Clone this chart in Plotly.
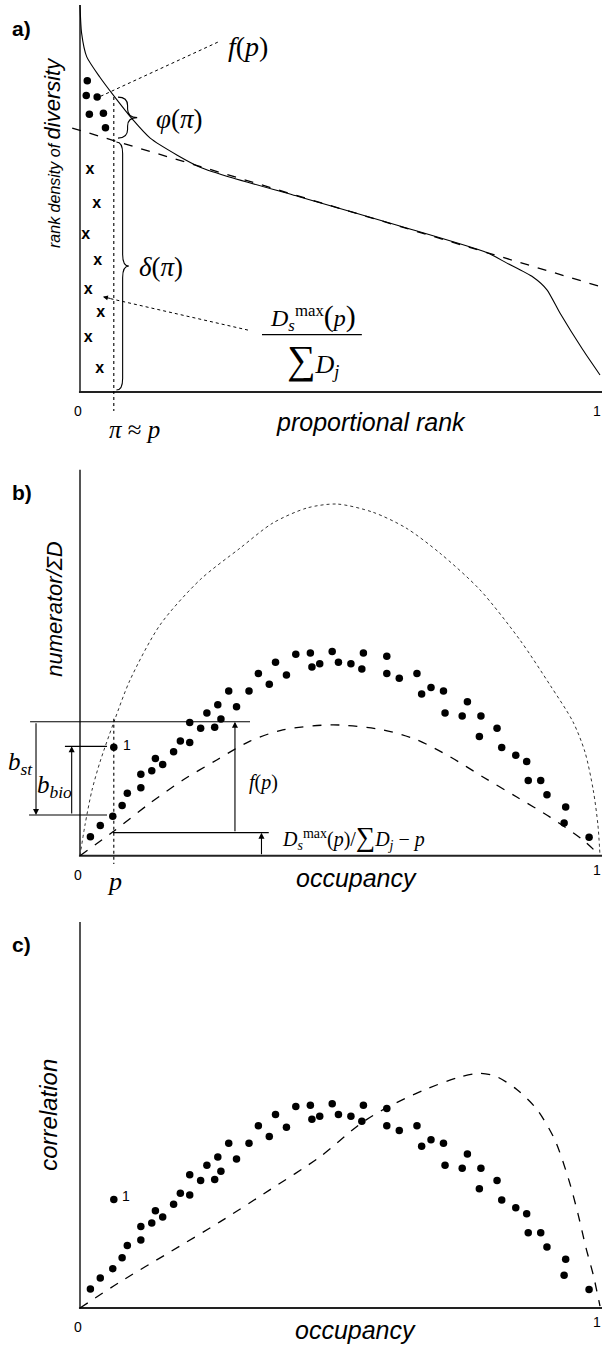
import plotly.graph_objects as go

# ---------------- data (axis units: x = proportional rank / occupancy, y = relative height) -------------
# panel a: rank density of diversity
rank_x = [0.0, 0.003, 0.013, 0.038, 0.067, 0.102, 0.135, 0.187, 0.231, 0.294, 0.423, 0.615, 0.783,
          0.821, 0.871, 0.898, 0.923, 0.967, 1.0]
rank_density = [1.0, 0.928, 0.866, 0.814, 0.762, 0.703, 0.656, 0.612, 0.581, 0.553, 0.504, 0.429, 0.360,
                0.333, 0.297, 0.264, 0.204, 0.109, 0.044]
trend_x = [-0.015, 1.004]
trend_y = [0.682, 0.271]
dot_rank = [0.014, 0.012, 0.033, 0.018, 0.045, 0.049]
dot_density = [0.804, 0.766, 0.762, 0.718, 0.720, 0.683]
cross_rank = [0.019, 0.032, 0.011, 0.034, 0.016, 0.040, 0.016, 0.038]
cross_density = [0.574, 0.486, 0.405, 0.339, 0.264, 0.203, 0.140, 0.059]

# panels b and c: species points (same points in both panels)
occupancy = [0.020, 0.039, 0.063, 0.081, 0.091, 0.117, 0.117, 0.138, 0.145, 0.159, 0.180, 0.193, 0.211,
             0.211, 0.232, 0.244, 0.259, 0.265, 0.271, 0.286, 0.301, 0.325, 0.343, 0.364, 0.376, 0.397,
             0.415, 0.443, 0.446, 0.461, 0.485, 0.497, 0.521, 0.545, 0.542, 0.590, 0.590, 0.614, 0.648,
             0.657, 0.675, 0.699, 0.702, 0.735, 0.745, 0.771, 0.768, 0.802, 0.811, 0.838, 0.859, 0.862,
             0.886, 0.898, 0.934, 0.931, 0.979]
species_value = [0.049, 0.078, 0.102, 0.130, 0.162, 0.176, 0.211, 0.220, 0.252, 0.236, 0.269, 0.297, 0.293,
                 0.345, 0.330, 0.370, 0.333, 0.391, 0.354, 0.427, 0.386, 0.427, 0.472, 0.444, 0.501, 0.468,
                 0.522, 0.525, 0.489, 0.497, 0.529, 0.501, 0.497, 0.525, 0.484, 0.517, 0.472, 0.460, 0.472,
                 0.419, 0.436, 0.427, 0.370, 0.362, 0.399, 0.362, 0.309, 0.330, 0.280, 0.260, 0.244, 0.195,
                 0.195, 0.158, 0.126, 0.085, 0.048]
outlier_occ = [0.065]
outlier_val = [0.281]

# panel b: dotted upper bound and dashed null curve
bound_x = [0.0, 0.0096, 0.0231, 0.0385, 0.0654, 0.0962, 0.154, 0.231, 0.308, 0.371, 0.437, 0.494, 0.563,
           0.627, 0.692, 0.769, 0.846, 0.904, 0.948, 0.971, 0.987, 0.996, 1.0]
bound_y = [0.0, 0.0795, 0.170, 0.243, 0.347, 0.455, 0.598, 0.715, 0.797, 0.862, 0.901, 0.911, 0.890,
           0.849, 0.784, 0.689, 0.559, 0.442, 0.347, 0.269, 0.170, 0.0795, 0.0]
null_x = [0.0, 0.0635, 0.135, 0.198, 0.263, 0.327, 0.390, 0.487, 0.583, 0.648, 0.712, 0.775, 0.840,
          0.904, 0.967, 1.0]
null_y = [0.0, 0.062, 0.1365, 0.196, 0.248, 0.297, 0.326, 0.339, 0.326, 0.300, 0.256, 0.204, 0.152,
          0.100, 0.041, 0.0]

# panel c: dashed null correlation
corr_null_x = [0.0, 0.077, 0.173, 0.269, 0.365, 0.462, 0.540, 0.590, 0.660, 0.727, 0.767, 0.800, 0.840,
               0.879, 0.913, 0.940, 0.958, 0.973, 0.987, 1.0]
corr_null_y = [0.0, 0.0675, 0.145, 0.223, 0.306, 0.392, 0.478, 0.519, 0.564, 0.597, 0.608, 0.600, 0.566,
               0.514, 0.436, 0.332, 0.242, 0.156, 0.086, 0.005]

p_value = 0.065

# ---------------- geometry -------------------------------------------------------------------------------
W, H = 602, 1351
PX0, PX1 = 80.0, 600.0
XR = [(0 - PX0) / (PX1 - PX0), (W - PX0) / (PX1 - PX0)]
# (top px, bottom px, baseline px, px per unit)
PANELS = {"a": (0, 445, 392.0, 387.0), "b": (445, 900, 855.7, 386.0), "c": (900, 1351, 1308.0, 386.0)}
AX = {"a": ("x", "y"), "b": ("x2", "y2"), "c": ("x3", "y3")}

SERIF = "Liberation Serif"
SANS = "Liberation Sans"
BLACK = "black"

fig = go.Figure()

layout_axes = {}
for i, key in enumerate(["a", "b", "c"]):
    top, bot, base, sc = PANELS[key]
    suf = "" if i == 0 else str(i + 1)
    layout_axes["xaxis" + suf] = dict(domain=[0, 1], range=XR, visible=False, anchor="y" + suf,
                                      fixedrange=True)
    layout_axes["yaxis" + suf] = dict(domain=[1 - bot / H, 1 - top / H],
                                      range=[(base - bot) / sc, (base - top) / sc],
                                      visible=False, anchor="x" + suf, fixedrange=True)

shapes = []
annotations = []


def axis_lines(key, ytop):
    xr, yr = AX[key]
    fig.add_trace(go.Scatter(x=[0, 0], y=[ytop, 0], mode="lines", xaxis=xr, yaxis=yr,
                             line=dict(color="#555", width=2), cliponaxis=False, showlegend=False,
                             hoverinfo="skip"))
    fig.add_trace(go.Scatter(x=[-0.002, 1.004], y=[0, 0], mode="lines", xaxis=xr, yaxis=yr,
                             line=dict(color="#222", width=2), cliponaxis=False, showlegend=False,
                             hoverinfo="skip"))


def seg(key, x0, y0, x1, y1, dash="solid", width=1.0, color=BLACK):
    xr, yr = AX[key]
    shapes.append(dict(type="line", xref=xr, yref=yr, x0=x0, x1=x1, y0=y0, y1=y1,
                       line=dict(color=color, width=width, dash=dash)))


def hline(key, y, x0, x1):
    seg(key, x0, y, x1, y, width=1.2)


def text(key, s, x, y, size, family=SANS, xanchor="center", angle=0, color=BLACK):
    xr, yr = AX[key]
    annotations.append(dict(text=s, x=x, y=y, xref=xr, yref=yr, showarrow=False, xanchor=xanchor,
                            yanchor="middle", textangle=angle,
                            font=dict(family=family, size=size, color=color)))


def arrow(key, x, y0, y1):
    """vertical arrow from y0 (tail) to y1 (head)"""
    xr, yr = AX[key]
    annotations.append(dict(text="", x=x, y=y1, ax=x, ay=y0, xref=xr, yref=yr, axref=xr, ayref=yr,
                            showarrow=True, arrowhead=2, arrowsize=1.1, arrowwidth=1.1,
                            arrowcolor=BLACK, font=dict(size=10)))


def brace(key, x0, w, ytop, ybot, r):
    xr, yr = AX[key]
    xm = x0 + w / 2
    ym = (ytop + ybot) / 2
    path = (f"M {x0},{ytop} Q {xm},{ytop} {xm},{ytop - r} L {xm},{ym + r} "
            f"Q {xm},{ym} {x0 + w},{ym} Q {xm},{ym} {xm},{ym - r} "
            f"L {xm},{ybot + r} Q {xm},{ybot} {x0},{ybot}")
    shapes.append(dict(type="path", path=path, xref=xr, yref=yr, line=dict(color=BLACK, width=1.1)))


# ================= panel a =================
axis_lines("a", 1.0)
fig.add_trace(go.Scatter(x=rank_x, y=rank_density, mode="lines", xaxis="x", yaxis="y",
                         line=dict(color=BLACK, width=1.1, shape="spline", smoothing=0.6),
                         cliponaxis=False, showlegend=False))
fig.add_trace(go.Scatter(x=trend_x, y=trend_y, mode="lines", xaxis="x", yaxis="y",
                         line=dict(color=BLACK, width=1.3, dash="dash"),
                         cliponaxis=False, showlegend=False))
fig.add_trace(go.Scatter(x=dot_rank, y=dot_density, mode="markers", xaxis="x", yaxis="y",
                         marker=dict(color=BLACK, size=7.5), cliponaxis=False, showlegend=False))
fig.add_trace(go.Scatter(x=cross_rank, y=cross_density, mode="text", xaxis="x", yaxis="y",
                         text=["<b>x</b>"] * len(cross_rank),
                         textfont=dict(family=SANS, size=16, color=BLACK),
                         cliponaxis=False, showlegend=False))
# pi vertical dotted line
seg("a", p_value, 0.762, p_value, -0.049, dash="dot", width=1.1)
# f(p) pointer
seg("a", 0.265, 0.904, 0.033, 0.760, dash="dot", width=1.0)
# fraction pointer
seg("a", 0.323, 0.160, 0.046, 0.245, dash="dot", width=1.0)
annotations.append(dict(text="", x=0.044, y=0.246, xref="x", yref="y", ax=9, ay=2, showarrow=True,
                        arrowhead=2, arrowsize=1, arrowwidth=1, arrowcolor=BLACK, font=dict(size=10)))
brace("a", 0.073, 0.037, 0.762, 0.656, 0.022)
brace("a", 0.070, 0.024, 0.646, 0.005, 0.03)
# fraction bar
seg("a", 0.350, 0.148, 0.542, 0.148, width=1.3)

text("a", "<b>a)</b>", -0.112, 0.94, 21)
text("a", "<i><span style='font-size:16px'>rank density of </span>diversity</i>", -0.054, 0.62, 22,
     angle=-90)
text("a", "<i>f</i>(<i>p</i>)", 0.323, 0.893, 28, family=SERIF)
text("a", "<i>φ</i>(<i>π</i>)", 0.19, 0.706, 27, family=SERIF)
text("a", "<i>δ</i>(<i>π</i>)", 0.155, 0.323, 27, family=SERIF)
text("a", "<i>D</i><sub><i>s</i></sub><sup>max</sup><span style='font-size:30px'>(</span><i>p</i>"
          "<span style='font-size:30px'>)</span>", 0.448, 0.195, 24, family=SERIF)
text("a", "<span style='font-size:40px'>∑</span><i>D</i><sub><i>j</i></sub>", 0.448, 0.083, 26,
     family=SERIF)
text("a", "0", -0.004, -0.049, 14)
text("a", "1", 0.994, -0.049, 14)
text("a", "<i>π</i> ≈ <i>p</i>", 0.104, -0.098, 25, family=SERIF)
text("a", "<i>proportional rank</i>", 0.56, -0.078, 25)

# ================= panel b =================
axis_lines("b", 1.0)
fig.add_trace(go.Scatter(x=bound_x, y=bound_y, mode="lines", xaxis="x2", yaxis="y2",
                         line=dict(color="#333", width=1.0, dash="dot", shape="spline", smoothing=0.8),
                         cliponaxis=False, showlegend=False))
fig.add_trace(go.Scatter(x=null_x, y=null_y, mode="lines", xaxis="x2", yaxis="y2",
                         line=dict(color=BLACK, width=1.3, dash="dash", shape="spline", smoothing=0.8),
                         cliponaxis=False, showlegend=False))
fig.add_trace(go.Scatter(x=occupancy + outlier_occ, y=species_value + outlier_val, mode="markers",
                         xaxis="x2", yaxis="y2", marker=dict(color=BLACK, size=7.5),
                         cliponaxis=False, showlegend=False))
seg("b", p_value, 0.355, p_value, -0.0215, dash="dot", width=1.1)
hline("b", 0.347, -0.096, 0.327)
hline("b", 0.1054, -0.098, 0.052)
hline("b", 0.2834, -0.029, 0.052)
hline("b", 0.0596, 0.0635, 0.363)
arrow("b", -0.0846, 0.347, 0.1054)
arrow("b", -0.016, 0.1054, 0.2834)
arrow("b", 0.298, 0.0596, 0.347)
arrow("b", 0.349, 0.0, 0.0596)

text("b", "<b>b)</b>", -0.112, 0.942, 21)
text("b", "<i>numerator/ΣD</i>", -0.048, 0.64, 22, angle=-90)
text("b", "<i>b</i><sub><i>st</i></sub>", -0.115, 0.24, 25, family=SERIF)
text("b", "<i>b</i><sub><i>bio</i></sub>", -0.050, 0.178, 25, family=SERIF)
text("b", "1", 0.091, 0.287, 14)
text("b", "<i>f</i>(<i>p</i>)", 0.352, 0.189, 20, family=SERIF)
text("b", "<i>D</i><sub><i>s</i></sub><sup>max</sup>(<i>p</i>)/<span style='font-size:27px'>∑</span>"
          "<i>D</i><sub><i>j</i></sub> − <i>p</i>", 0.385, 0.047, 20, family=SERIF, xanchor="left")
text("b", "0", -0.004, -0.05, 14)
text("b", "<i>p</i>", 0.066, -0.068, 26, family=SERIF)
text("b", "<i>occupancy</i>", 0.531, -0.058, 25)
text("b", "1", 0.994, -0.037, 14)

# ================= panel c =================
axis_lines("c", 1.0)
fig.add_trace(go.Scatter(x=corr_null_x, y=corr_null_y, mode="lines", xaxis="x3", yaxis="y3",
                         line=dict(color=BLACK, width=1.3, dash="dash", shape="spline", smoothing=0.8),
                         cliponaxis=False, showlegend=False))
fig.add_trace(go.Scatter(x=occupancy + outlier_occ, y=species_value + outlier_val, mode="markers",
                         xaxis="x3", yaxis="y3", marker=dict(color=BLACK, size=7.5),
                         cliponaxis=False, showlegend=False))
text("c", "<b>c)</b>", -0.112, 0.943, 21)
text("c", "<i>correlation</i>", -0.062, 0.50, 24, angle=-90)
text("c", "1", 0.089, 0.289, 14)
text("c", "0", -0.004, -0.049, 14)
text("c", "<i>occupancy</i>", 0.529, -0.057, 25)
text("c", "1", 0.994, -0.036, 14)

fig.update_layout(width=W, height=H, margin=dict(l=0, r=0, t=0, b=0), paper_bgcolor="white",
                  plot_bgcolor="white", showlegend=False, shapes=shapes, annotations=annotations,
                  font=dict(family=SANS, color=BLACK), **layout_axes)

fig.write_html("out.html", config={"displayModeBar": False},
               post_script="document.body.style.margin='0';document.body.style.overflow='hidden';")
